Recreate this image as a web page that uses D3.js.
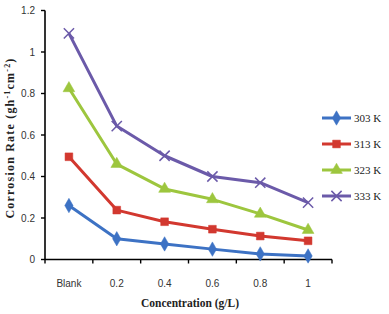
<!DOCTYPE html>
<html>
<head>
<meta charset="utf-8">
<script src="https://cdn.jsdelivr.net/npm/d3@7"></script>
<style>
  body { margin: 0; background: #fff; }
  svg { display: block; }
</style>
</head>
<body>
<svg id="chart" width="389" height="314"></svg>
<script>
// concentration categories and corrosion rates
var categories = ['Blank', '0.2', '0.4', '0.6', '0.8', '1'];
var temps = ['303 K', '313 K', '323 K', '333 K'];
var rate303 = [0.26, 0.10, 0.075, 0.05, 0.027, 0.017];
var rate313 = [0.495, 0.238, 0.182, 0.146, 0.113, 0.09];
var rate323 = [0.825, 0.46, 0.34, 0.29, 0.22, 0.142];
var rate333 = [1.09, 0.643, 0.50, 0.40, 0.37, 0.274];
var yTicks = [0, 0.2, 0.4, 0.6, 0.8, 1, 1.2];

var colors = ['#3d72c4', '#d2382f', '#9dc63e', '#6b5aa9'];
var symbols = [d3.symbolDiamond, d3.symbolSquare, d3.symbolTriangle, d3.symbolX];

var series = [rate303, rate313, rate323, rate333].map(function (vals, i) {
  return { name: temps[i], values: vals, color: colors[i], symbol: symbols[i] };
});

var svg = d3.select('#chart');
// note: "top" is reserved on window, so plot edges get their own names
var plotL = 45, plotR = 332, plotT = 10.5, plotB = 259.5;

var x = d3.scaleBand().domain(categories).range([plotL, plotR]);
var y = d3.scaleLinear().domain([0, 1.2]).range([plotB, plotT]);

function cx(i) { return x(categories[i]) + x.bandwidth() / 2; }

function marker(sel, s) {
  var isX = s.symbol === d3.symbolX;
  sel.attr('d', d3.symbol().type(s.symbol).size(isX ? 70 : 60))
    .attr('fill', isX ? 'none' : s.color)
    .attr('stroke', s.color)
    .attr('stroke-width', isX ? 1.5 : 0.5);
}

// axes
var xAxis = svg.append('g')
  .attr('transform', 'translate(0,' + plotB + ')');
xAxis.append('line')
  .attr('x1', plotL).attr('x2', plotR)
  .attr('stroke', '#000').attr('stroke-width', 1.6);
var bounds = categories.map(function (c) { return x(c); }).concat([plotR]);
xAxis.selectAll('.xtick').data(bounds).enter().append('line')
  .attr('x1', function (d) { return d; }).attr('x2', function (d) { return d; })
  .attr('y1', 0).attr('y2', 4)
  .attr('stroke', '#000').attr('stroke-width', 1.4);
xAxis.selectAll('.xlab').data(categories).enter().append('text')
  .attr('x', function (d, i) { return cx(i); })
  .attr('y', 27)
  .attr('text-anchor', 'middle')
  .attr('font-family', 'Liberation Sans, Arial, sans-serif')
  .attr('font-size', 10)
  .attr('fill', '#333')
  .text(function (d) { return d; });

var yAxis = svg.append('g');
yAxis.append('line')
  .attr('x1', plotL).attr('x2', plotL)
  .attr('y1', plotT).attr('y2', plotB)
  .attr('stroke', '#000').attr('stroke-width', 1.6);
yAxis.selectAll('.ytick').data(yTicks).enter().append('line')
  .attr('x1', plotL - 4).attr('x2', plotL)
  .attr('y1', function (d) { return y(d); }).attr('y2', function (d) { return y(d); })
  .attr('stroke', '#000').attr('stroke-width', 1.4);
yAxis.selectAll('.ylab').data(yTicks).enter().append('text')
  .attr('x', 35)
  .attr('y', function (d) { return y(d) + 3.5; })
  .attr('text-anchor', 'end')
  .attr('font-family', 'Liberation Sans, Arial, sans-serif')
  .attr('font-size', 10)
  .attr('fill', '#333')
  .text(function (d) { return d3.format('~g')(d); });

// lines and markers
var line = d3.line()
  .x(function (d, i) { return cx(i); })
  .y(function (d) { return y(d); });

series.forEach(function (s) {
  svg.append('path')
    .attr('d', line(s.values))
    .attr('fill', 'none')
    .attr('stroke', s.color)
    .attr('stroke-width', 3)
    .attr('stroke-linejoin', 'round');
  svg.selectAll(null).data(s.values).enter().append('path')
    .attr('transform', function (d, i) { return 'translate(' + cx(i) + ',' + y(d) + ')'; })
    .call(marker, s);
});

// legend
var legend = svg.append('g');
series.forEach(function (s, i) {
  var ly = 118 + i * 26;
  legend.append('line')
    .attr('x1', 322).attr('x2', 351)
    .attr('y1', ly).attr('y2', ly)
    .attr('stroke', s.color).attr('stroke-width', 3);
  legend.append('path')
    .attr('transform', 'translate(336.5,' + ly + ')')
    .call(marker, s);
  legend.append('text')
    .attr('x', 354).attr('y', ly + 4)
    .attr('font-family', 'Liberation Serif, Times New Roman, serif')
    .attr('font-size', 11)
    .attr('fill', '#222')
    .text(s.name);
});

// axis titles
svg.append('text')
  .attr('x', 190).attr('y', 307)
  .attr('text-anchor', 'middle')
  .attr('font-family', 'Liberation Serif, Times New Roman, serif')
  .attr('font-weight', 'bold')
  .attr('font-size', 11.5)
  .attr('fill', '#222')
  .text('Concentration (g/L)');

var yt = svg.append('text')
  .attr('transform', 'translate(14,138) rotate(-90)')
  .attr('text-anchor', 'middle')
  .attr('font-family', 'Liberation Serif, Times New Roman, serif')
  .attr('font-weight', 'bold')
  .attr('font-size', 12)
  .attr('letter-spacing', 1.2)
  .attr('fill', '#222');
yt.append('tspan').text('Corrosion Rate  (gh');
yt.append('tspan').attr('font-size', 8).attr('dy', -4).text('-1');
yt.append('tspan').attr('dy', 4).text('cm');
yt.append('tspan').attr('font-size', 8).attr('dy', -4).text('-2');
yt.append('tspan').attr('dy', 4).text(')');
</script>
</body>
</html>
